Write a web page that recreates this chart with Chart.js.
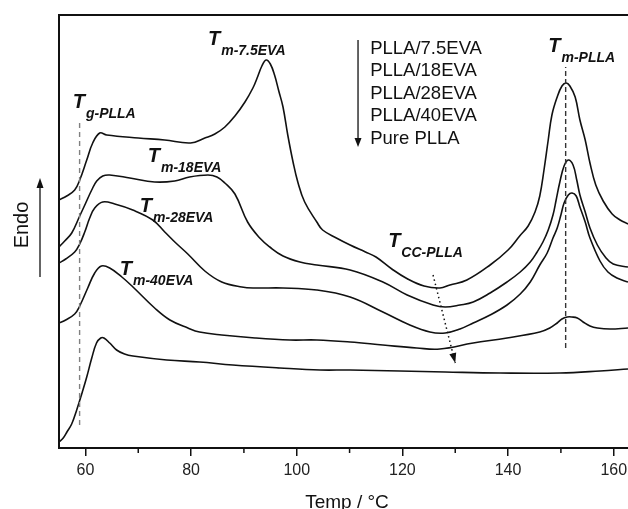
<!DOCTYPE html>
<html>
<head>
<meta charset="utf-8">
<script src="https://cdn.jsdelivr.net/npm/chart.js@4.4.1/dist/chart.umd.min.js"></script>
<style>
html,body{margin:0;padding:0;background:#fff;overflow:hidden;}
canvas{display:block;}
</style>
</head>
<body>
<canvas id="c" width="628" height="509"></canvas>
<script>
// ---- data (temperature in °C, heat flow in arbitrary units, endo up) ----
const seriesNames = ['PLLA/7.5EVA', 'PLLA/18EVA', 'PLLA/28EVA', 'PLLA/40EVA', 'Pure PLLA'];

const temp75 = [55.0,56.46,57.97,58.92,60.25,61.38,62.71,64.03,70.0,75.0,79.9,82.6,84.5,86.4,88.3,90.2,91.7,92.5,93.4,94.2,95.0,95.8,96.6,97.4,98.3,99.3,100.2,101.5,103.8,104.9,107.5,110.1,113.0,115.0,118.0,121.0,124.1,127.1,129.0,132.2,136.6,140.0,142.2,143.8,145.1,146.0,146.8,147.6,148.3,149.3,150.2,151.0,151.7,152.7,153.6,154.6,155.5,156.6,158.0,159.7,161.2,162.7];
const heat75 = [248,252,258,268,288,305,315,313,310,308,305,310,314,321,332,346,360,370,382,388,384,373,357,341,313,286,266,246,226,218,210,203,196,191,179,169,162,160,163,168,183,198,212,222,236,252,278,308,333,351,362,365,362,351,328,308,285,263,247,234,228,224];

const temp18 = [55.0,56.08,57.41,58.92,60.06,61.19,62.14,63.28,64.6,68.4,73.1,76.9,79.7,83.2,84.9,86.4,88.3,90.7,93.0,94.9,97.4,100.6,103.8,110.1,116.3,120.9,125.8,128.1,130.9,133.4,136.6,139.8,142.3,144.2,145.5,146.6,147.6,148.5,149.1,149.8,150.6,151.4,152.3,153.0,153.6,154.6,155.5,156.9,158.4,159.9,162.7];
const heat18 = [201,207,215,232,245,258,267,272,273,270,266,267,271,273,271,265,254,226,210,201,192,186,183,178,166,153,143,141,143,146,155,166,176,186,196,206,218,233,248,266,282,288,283,268,253,236,220,203,191,184,181];

const temp28 = [55.0,56.27,57.97,58.92,59.87,60.81,61.76,63.28,65.55,68.96,72.75,75.02,76.92,79.38,82.6,85.8,89.6,92.1,97.4,103.8,110.1,116.3,121.4,125.2,128.1,130.9,133.4,136.6,139.8,142.3,144.2,146.0,147.4,148.5,149.3,150.0,150.6,151.4,152.1,152.9,153.6,154.6,155.5,157.4,158.9,160.6,162.7];
const heat28 = [185,189,196,204,216,230,240,246,244,238,228,216,206,194,177,166,161,160,160,158,151,136,123,116,115,119,125,133,143,154,166,183,195,210,220,233,245,253,255,252,241,226,210,187,176,170,166];

const temp40 = [55.0,56.27,57.97,58.92,60.44,61.76,63.03,64.6,66.9,69.0,73.1,76.0,79.4,81.6,85.8,92.1,98.7,103.8,110.1,116.3,122.7,127.1,133.4,139.8,146.0,147.9,149.3,150.2,151.2,152.1,153.1,154.2,155.5,156.9,159.3,162.7];
const heat40 = [125,128,134,142,160,175,182,180,171,161,140,128,120,116,113,110,108,108,106,103,100,99,105,110,116,120,125,129,131,131,130,126,122,120,119,120];

const tempPure = [55.0,55.8,56.5,57.4,58.35,59.3,60.25,61.2,62.1,62.9,63.5,64.6,65.9,67.4,69.0,75.4,81.6,87.9,96.8,104.4,110.1,119.5,128.1,138.5,149.8,157.4,162.7];
const heatPure = [6,10,16,24,38,54,71,90,105,110,110,105,98,94,92,88,86,83,80,78,78,77,76,75,75,77,79];

const xTicksMajor = [60, 80, 100, 120, 140, 160];
const xTicksMinor = [70, 90, 110, 130, 150];

// annotations, in data coordinates
const transLabels = [
  ['m-7.5EVA', 83.2, 403],
  ['g-PLLA', 57.6, 340],
  ['m-18EVA', 71.8, 286],
  ['m-28EVA', 70.3, 236],
  ['m-40EVA', 66.5, 173],
  ['CC-PLLA', 117.3, 201],
  ['m-PLLA', 147.6, 396]
];
const tgTemp = 58.9, tgRange = [23, 325];
const tmTemp = 150.9, tmRange = [100, 381];
const tccArrow = [[125.8, 173], [130.0, 85]];
const orderArrow = {x: 111.6, from: 408, to: 301};
const orderText = {x: 113.9, y: [394.5, 372, 349.5, 327, 304.5]};

const FONT = "'Liberation Sans', Arial, Helvetica, sans-serif";
const INK = '#111';

function pts(xs, ys){ return xs.map((v,i)=>({x:v, y:ys[i]})); }
const allSeries = [
  pts(temp75, heat75), pts(temp18, heat18), pts(temp28, heat28), pts(temp40, heat40), pts(tempPure, heatPure)
];

function arrowHead(ctx, x0, y0, x1, y1, len, halfW){
  const a = Math.atan2(y1-y0, x1-x0);
  ctx.beginPath();
  ctx.moveTo(x1, y1);
  ctx.lineTo(x1 - len*Math.cos(a) + halfW*Math.sin(a), y1 - len*Math.sin(a) - halfW*Math.cos(a));
  ctx.lineTo(x1 - len*Math.cos(a) - halfW*Math.sin(a), y1 - len*Math.sin(a) + halfW*Math.cos(a));
  ctx.closePath();
  ctx.fill();
}

const decor = {
  id: 'decor',
  afterDatasetsDraw(chart){
    const ctx = chart.ctx, a = chart.chartArea, xs = chart.scales.x, ys = chart.scales.y;
    const X = v => xs.getPixelForValue(v), Y = v => ys.getPixelForValue(v);
    ctx.save();
    ctx.strokeStyle = INK; ctx.fillStyle = INK;
    // frame: top and left
    ctx.lineWidth = 2;
    ctx.beginPath();
    ctx.moveTo(a.left, a.bottom); ctx.lineTo(a.left, a.top); ctx.lineTo(a.right + 2, a.top);
    ctx.stroke();
    // minor ticks
    ctx.lineWidth = 1.5;
    xTicksMinor.forEach(t => {
      ctx.beginPath(); ctx.moveTo(X(t), a.bottom); ctx.lineTo(X(t), a.bottom + 5); ctx.stroke();
    });
    // Tg dashed line
    ctx.setLineDash([5, 4]);
    ctx.strokeStyle = '#808080'; ctx.lineWidth = 1.4;
    ctx.beginPath(); ctx.moveTo(X(tgTemp), Y(tgRange[0])); ctx.lineTo(X(tgTemp), Y(tgRange[1])); ctx.stroke();
    // Tm dashed line
    ctx.strokeStyle = '#333'; ctx.setLineDash([5, 3]);
    ctx.beginPath(); ctx.moveTo(X(tmTemp), Y(tmRange[0])); ctx.lineTo(X(tmTemp), Y(tmRange[1])); ctx.stroke();
    // Tcc dotted arrow
    ctx.setLineDash([1.5, 3]); ctx.strokeStyle = INK; ctx.lineWidth = 1.5;
    const ax0 = X(tccArrow[0][0]), ay0 = Y(tccArrow[0][1]), ax1 = X(tccArrow[1][0]), ay1 = Y(tccArrow[1][1]);
    ctx.beginPath(); ctx.moveTo(ax0, ay0); ctx.lineTo(ax1, ay1); ctx.stroke();
    ctx.setLineDash([]);
    arrowHead(ctx, ax0, ay0, ax1, ay1, 10, 3.5);
    // order arrow + texts
    ctx.lineWidth = 1.3;
    const ox = X(orderArrow.x);
    ctx.beginPath(); ctx.moveTo(ox, Y(orderArrow.from)); ctx.lineTo(ox, Y(orderArrow.to) - 6); ctx.stroke();
    arrowHead(ctx, ox, Y(orderArrow.from), ox, Y(orderArrow.to), 9, 3.5);
    ctx.font = '18.5px ' + FONT; ctx.textBaseline = 'alphabetic'; ctx.textAlign = 'left';
    seriesNames.forEach((n, i) => ctx.fillText(n, X(orderText.x), Y(orderText.y[i])));
    // transition labels
    transLabels.forEach(([sub, tx, ty]) => {
      const px = X(tx), py = Y(ty);
      ctx.font = 'italic bold 20px ' + FONT;
      ctx.fillText('T', px, py);
      const w = ctx.measureText('T').width;
      ctx.font = 'italic bold 14px ' + FONT;
      ctx.fillText(sub, px + w + 1, py + 10);
    });
    // y title with arrow
    ctx.save();
    ctx.translate(22, 225); ctx.rotate(-Math.PI/2);
    ctx.font = '20px ' + FONT; ctx.textAlign = 'center'; ctx.textBaseline = 'middle';
    ctx.fillText('Endo', 0, 0);
    ctx.restore();
    ctx.lineWidth = 1.3;
    ctx.beginPath(); ctx.moveTo(40, 277); ctx.lineTo(40, 184); ctx.stroke();
    arrowHead(ctx, 40, 277, 40, 178, 10, 3.5);
    // x title
    ctx.font = '19px ' + FONT; ctx.textAlign = 'center'; ctx.textBaseline = 'alphabetic';
    ctx.fillText('Temp / °C', 347, 508);
    ctx.restore();
  }
};

new Chart(document.getElementById('c'), {
  type: 'line',
  data: {
    datasets: allSeries.map((d, i) => ({
      label: seriesNames[i], data: d, borderColor: INK, borderWidth: 1.6,
      pointRadius: 0, fill: false, tension: 0.4
    }))
  },
  options: {
    responsive: false, animation: false, devicePixelRatio: 1,
    layout: {padding: {left: 59, top: 15, right: 0, bottom: 23}},
    plugins: {legend: {display: false}, tooltip: {enabled: false}},
    scales: {
      x: {
        type: 'linear', min: 55, max: 162.7,
        afterBuildTicks: s => { s.ticks = xTicksMajor.map(v => ({value: v})); },
        ticks: {color: '#222', font: {size: 16, family: FONT, lineHeight: 1.875}, padding: 0, maxRotation: 0, autoSkip: false},
        grid: {drawOnChartArea: false, color: INK, tickLength: 8, lineWidth: 1.5},
        border: {color: INK, width: 2}
      },
      y: {type: 'linear', min: 0, max: 433, display: false}
    }
  },
  plugins: [decor]
});
</script>
</body>
</html>
